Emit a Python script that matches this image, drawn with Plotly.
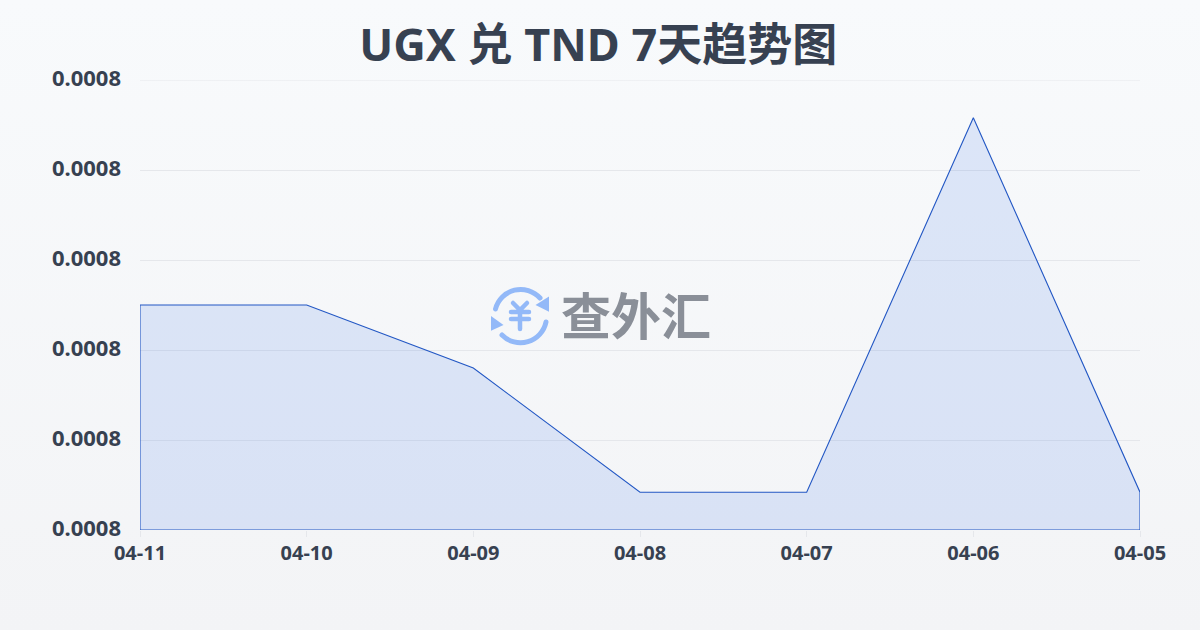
import base64
import plotly.graph_objects as go

dates = ["04-11", "04-10", "04-09", "04-08", "04-07", "04-06", "04-05"]
rates = [0.000805, 0.000805, 0.000798, 0.0007842, 0.0007842, 0.0008258, 0.0007842]
axis_min = 0.00078
axis_max = 0.00083
tick_step = 0.00001
title_text = "UGX 兑 TND 7天趋势图"
logo_text = "查外汇"

FONT = "'Noto Sans', 'Noto Sans CJK SC', sans-serif"
INK = "#374151"

bg_svg = (
    '<svg xmlns="http://www.w3.org/2000/svg" width="1200" height="630">'
    '<defs><linearGradient id="g" x1="0" y1="0" x2="0" y2="1">'
    '<stop offset="0" stop-color="#f8fafc"/><stop offset="1" stop-color="#f3f4f6"/>'
    '</linearGradient></defs><rect width="1200" height="630" fill="url(#g)"/></svg>'
)
icon_svg = (
    '<svg xmlns="http://www.w3.org/2000/svg" width="60" height="60" viewBox="0 0 60 60">'
    '<g fill="none" stroke="#93b9f8" stroke-width="5" stroke-linecap="round">'
    '<path d="M4.5 23 A26 26 0 0 1 49 12"/>'
    '<path d="M55 36 A26 26 0 0 1 11 49"/>'
    '<path d="M22 17 L29 24 L36 17 M20 26 H38 M20 33 H38 M29 24 V43" stroke-width="4.5"/>'
    '</g><g fill="#93b9f8">'
    '<path d="M58 10.5 L58 25.7 L44.5 19 Z"/><path d="M0 30 L0 44.7 L12.5 39 Z"/>'
    '</g></svg>'
)


def data_uri(svg):
    return "data:image/svg+xml;base64," + base64.b64encode(svg.encode()).decode()


xs = dates + [dates[-1], dates[0], dates[0]]
ys = rates + [axis_min, axis_min, rates[0]]

fig = go.Figure(
    go.Scatter(
        x=xs,
        y=ys,
        mode="lines",
        fill="toself",
        fillcolor="rgba(37,99,235,0.13)",
        line=dict(color="#2257c4", width=1.1),
        cliponaxis=False,
        hoverinfo="skip",
    )
)

fig.update_layout(
    width=1200,
    height=630,
    margin=dict(l=140, r=60, t=80, b=100),
    paper_bgcolor="#f5f7fa",
    plot_bgcolor="rgba(0,0,0,0)",
    showlegend=False,
    font=dict(family=FONT, color=INK),
    title=dict(
        text=f"<b>{title_text}</b>",
        x=0.4985,
        xanchor="center",
        y=0.928,
        yanchor="middle",
        font=dict(size=45, family=FONT, color=INK),
    ),
    xaxis=dict(
        type="category",
        categoryorder="array",
        categoryarray=dates,
        range=[0, len(dates) - 1],
        showgrid=False,
        zeroline=False,
        showline=False,
        ticks="outside",
        ticklen=6,
        tickwidth=1,
        tickcolor="#e5e7eb",
        ticklabelstandoff=-1,
        tickfont=dict(size=20, family=FONT, color=INK, weight=700),
    ),
    yaxis=dict(
        range=[axis_min, axis_max],
        tick0=axis_min,
        dtick=tick_step,
        tickformat=".4f",
        showgrid=True,
        gridcolor="#e5e7eb",
        gridwidth=1,
        zeroline=False,
        showline=False,
        ticks="",
        ticklabelstandoff=18,
        tickfont=dict(size=22, family=FONT, color=INK, weight=700),
    ),
    shapes=[
        dict(type="line", xref="paper", x0=0, x1=1, yref="y", y0=axis_max, y1=axis_max,
             line=dict(color="#e5e7eb", width=1), layer="below"),
    ],
    images=[
        dict(source=data_uri(bg_svg), xref="paper", yref="paper", x=-140 / 1000, y=1 + 80 / 450,
             sizex=1.2, sizey=1.4, xanchor="left", yanchor="top", layer="below", sizing="stretch"),
        dict(source=data_uri(icon_svg), xref="paper", yref="paper", x=(491 - 140) / 1000, y=(530 - 286) / 450,
             sizex=0.06, sizey=60 / 450, xanchor="left", yanchor="top", layer="above", sizing="stretch"),
    ],
    annotations=[
        dict(
            text=f"<b>{logo_text}</b>",
            xref="paper", yref="paper",
            x=(636 - 140) / 1000, y=(530 - 316) / 450 + 3 / 450,
            xanchor="center", yanchor="middle", showarrow=False,
            font=dict(size=50, family="'Noto Sans CJK SC', sans-serif", color="#8a8f98"),
        )
    ],
)

fig.write_html(
    "out.html",
    config={"displayModeBar": False},
    post_script=(
        "document.documentElement.style.margin='0';document.body.style.margin='0';"
        "document.querySelectorAll('.ytick text').forEach(function(t){"
        "t.setAttribute('y',parseFloat(t.getAttribute('y')||0)-2);});"
    ),
)
